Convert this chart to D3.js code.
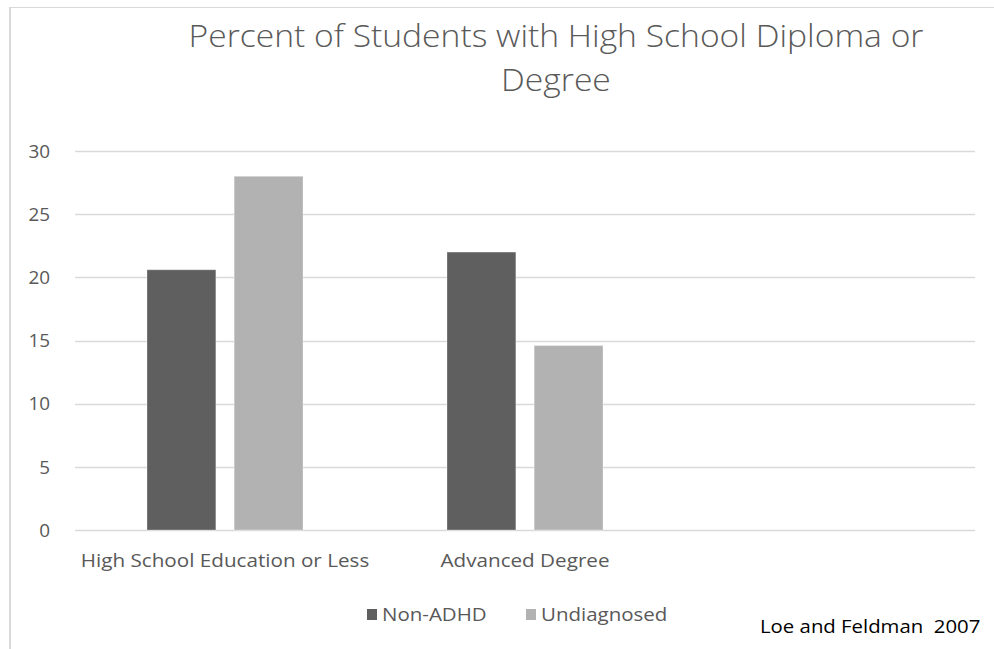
<!DOCTYPE html>
<html>
<head>
<meta charset="utf-8">
<script src="https://cdn.jsdelivr.net/npm/d3@7"></script>
<style>
  html, body { margin: 0; padding: 0; background: #fff; }
  svg { display: block; }
  text { white-space: pre; }
</style>
</head>
<body>
<svg id="chart" width="994" height="649"></svg>
<script>
// Chart data
const categories = ["High School Education or Less", "Advanced Degree", ""];
const seriesNames = ["Non-ADHD", "Undiagnosed"];
const nonAdhd = [20.6, 22.0, null];
const undiagnosed = [28.0, 14.6, null];
const yTicks = [0, 5, 10, 15, 20, 25, 30];
const titleLines = ["Percent of Students with High School Diploma or", "Degree"];
const sourceNote = "Loe and Feldman  2007";

const colors = ["#5f5f5f", "#b2b2b2"];
const font = "'Open Sans', 'Liberation Sans', sans-serif";
const textGrey = "#595959";

// Widen glyphs horizontally by factor k (keeps the anchor)
function widen(sel, k) {
  sel.each(function () {
    const w = this.getComputedTextLength();
    d3.select(this).attr("textLength", w * k).attr("lengthAdjust", "spacingAndGlyphs");
  });
}

const svg = d3.select("#chart");

// Chart frame (left and top edges visible)
svg.append("line").attr("x1", 10).attr("x2", 10).attr("y1", 7).attr("y2", 649)
  .attr("stroke", "#d9d9d9").attr("stroke-width", 2);
svg.append("line").attr("x1", 9).attr("x2", 994).attr("y1", 7.5).attr("y2", 7.5)
  .attr("stroke", "#d9d9d9").attr("stroke-width", 1);

const plot = { left: 75, right: 975, top: 151, bottom: 530 };

const x0 = d3.scaleBand().domain(categories).range([plot.left, plot.right]).paddingInner(0).paddingOuter(0);
const x1 = d3.scaleBand().domain(seriesNames).range([72, 228]).paddingInner(0.21).paddingOuter(0);
const y = d3.scaleLinear().domain([0, 30]).range([plot.bottom, plot.top]);

// Gridlines
svg.append("g").selectAll("line").data(yTicks).join("line")
  .attr("x1", plot.left).attr("x2", plot.right)
  .attr("y1", d => Math.round(y(d)) + 0.5).attr("y2", d => Math.round(y(d)) + 0.5)
  .attr("stroke", "#d9d9d9").attr("stroke-width", 1.3);

// Y axis labels
const yAxis = d3.axisLeft(y).tickValues(yTicks).tickSize(0).tickPadding(0);
const gy = svg.append("g").attr("transform", `translate(50,0)`).call(yAxis);
gy.select(".domain").remove();
gy.selectAll("text").attr("font-family", font).attr("font-size", 17.5).attr("fill", textGrey)
  .attr("dy", "0.36em").call(widen, 1.08);

// Bars
const series = [nonAdhd, undiagnosed];
const barData = [];
categories.forEach((c, i) => {
  seriesNames.forEach((s, j) => {
    if (series[j][i] != null) barData.push({ cat: c, s, v: series[j][i], j });
  });
});
svg.append("g").selectAll("rect").data(barData).join("rect")
  .attr("x", d => x0(d.cat) + x1(d.s))
  .attr("y", d => y(d.v))
  .attr("width", x1.bandwidth())
  .attr("height", d => y(0) - y(d.v))
  .attr("fill", d => colors[d.j])
  .attr("stroke", "#fff").attr("stroke-opacity", 0.3).attr("stroke-width", 1);

// X axis labels
const xAxis = d3.axisBottom(x0).tickSize(0).tickPadding(0);
const gx = svg.append("g").attr("transform", `translate(0,${plot.bottom})`).call(xAxis);
gx.select(".domain").remove();
gx.selectAll("text").attr("font-family", font).attr("font-size", 17.5).attr("fill", textGrey)
  .attr("y", 37).attr("dy", 0).call(widen, 1.18);

// Title
svg.append("g").selectAll("text").data(titleLines).join("text")
  .attr("x", 556).attr("y", (d, i) => 47 + i * 44)
  .attr("text-anchor", "middle")
  .attr("font-family", font).attr("font-size", 31).attr("font-weight", 300)
  .attr("fill", textGrey)
  .text(d => d)
  .call(widen, 1.085);

// Legend
const legend = svg.append("g");
const legendX = [367, 526];
seriesNames.forEach((s, j) => {
  legend.append("rect").attr("x", legendX[j]).attr("y", 609).attr("width", 10).attr("height", 11)
    .attr("fill", colors[j]);
  legend.append("text").attr("x", legendX[j] + 15).attr("y", 621)
    .attr("font-family", font).attr("font-size", 17.5).attr("fill", textGrey).text(s)
    .call(widen, 1.17);
});

// Source note
svg.append("text").attr("x", 760).attr("y", 633)
  .attr("font-family", font).attr("font-size", 18.5).attr("fill", "#000").text(sourceNote)
  .call(widen, 1.1);
</script>
</body>
</html>
